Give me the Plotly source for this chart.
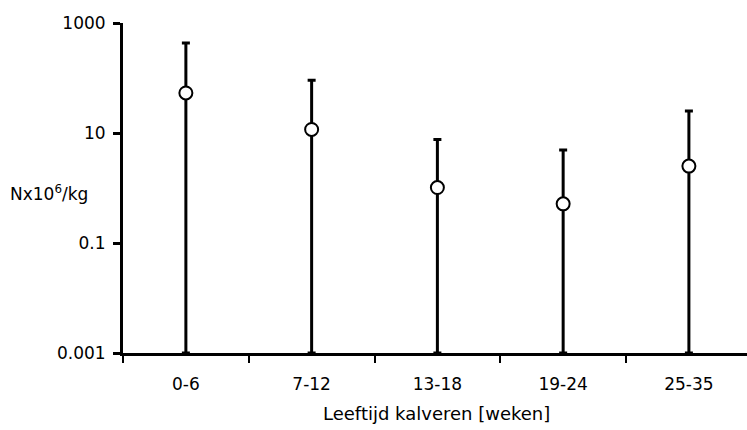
import plotly.graph_objects as go

categories = ["0-6", "7-12", "13-18", "19-24", "25-35"]
means = [53.5, 11.6, 1.02, 0.515, 2.5]
uppers = [433, 91, 7.6, 4.9, 25.2]
lowers = [0.001, 0.001, 0.001, 0.001, 0.001]
y_tickvals = [0.001, 0.1, 10, 1000]
y_ticktext = ["0.001", "0.1", "10", "1000"]

xpos = list(range(len(categories)))
err_plus = [u - m for u, m in zip(uppers, means)]
err_minus = [m - l for m, l in zip(means, lowers)]

FONT = "DejaVu Sans, Liberation Sans, Arial, sans-serif"
FS = 17

fig = go.Figure()
fig.add_trace(go.Scatter(
    x=xpos, y=means, mode="markers",
    marker=dict(symbol="circle", size=13, color="white",
                line=dict(color="black", width=2)),
    error_y=dict(type="data", symmetric=False, array=err_plus,
                 arrayminus=err_minus, color="black", thickness=3, width=4),
    showlegend=False, cliponaxis=False,
))

fig.update_layout(
    width=747, height=430,
    margin=dict(l=123, r=0, t=23, b=77),
    paper_bgcolor="white", plot_bgcolor="white",
    font=dict(family=FONT, size=FS, color="black"),
    xaxis=dict(
        range=[-0.5, 4.462], tickvals=xpos, ticktext=categories,
        ticks="", showgrid=False, zeroline=False,
        showline=True, linecolor="black", linewidth=3,
        ticklabelstandoff=14,
        tickfont=dict(family=FONT, size=FS),
        minor=dict(tickvals=[-0.5, 0.5, 1.5, 2.5, 3.5, 4.5], ticks="outside",
                   ticklen=7, tickwidth=2, tickcolor="black", showgrid=False),
    ),
    yaxis=dict(
        type="log", range=[-3, 3], tickvals=y_tickvals, ticktext=y_ticktext,
        ticks="outside", ticklen=7, tickwidth=3, tickcolor="black",
        showgrid=False, zeroline=False,
        showline=True, linecolor="black", linewidth=3,
        tickfont=dict(family=FONT, size=FS),
        ticklabelstandoff=4,
    ),
    annotations=[
        dict(text="Nx10<sup>6</sup>/kg", xref="paper", yref="paper",
             x=-0.184, y=0.484, xanchor="left", yanchor="middle",
             showarrow=False, font=dict(family=FONT, size=FS)),
        dict(text="Leeftijd kalveren [weken]", xref="paper", yref="paper",
             x=0.503, y=-0.182, xanchor="center", yanchor="middle",
             showarrow=False, font=dict(family=FONT, size=18)),
    ],
)

fig.write_html("out.html")
